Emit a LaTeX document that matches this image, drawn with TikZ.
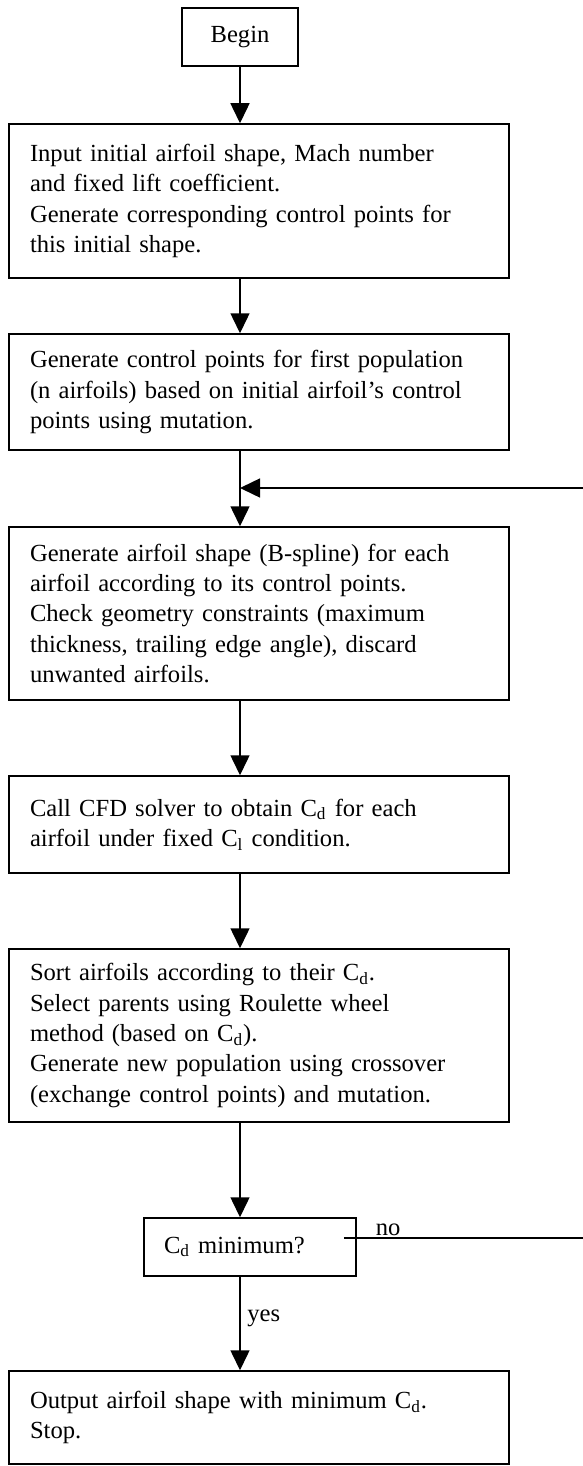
\documentclass[tikz,border=0pt]{standalone}
\usepackage{fontspec}
\setmainfont{Liberation Serif}
\usetikzlibrary{arrows.meta}

\begin{document}
\begin{tikzpicture}[x=0.5pt,y=-0.5pt,>={Triangle[length=10pt,width=9.5pt]},line width=0.75pt,
  stepbox/.style={draw,line width=0.75pt,minimum width=250pt,text width=229pt,inner xsep=10.5pt,inner ysep=3pt,align=left,font=\fontsize{12.3pt}{15.2pt}\selectfont},
  smallbox/.style={draw,line width=0.75pt,font=\fontsize{12.3pt}{15.2pt}\selectfont},
  lbl/.style={font=\fontsize{12.3pt}{15.2pt}\selectfont}]
\useasboundingbox (0,0) rectangle (583,1466);
\clip (0,0) rectangle (583,1466);
\node[smallbox,minimum width=58pt,minimum height=29pt] (begin) at (240,37) {Begin};
\node[stepbox,minimum height=77pt] (input) at (259,201) {Input initial airfoil shape, Mach number\\and fixed lift coefficient.\\Generate corresponding control points for\\this initial shape.};
\node[stepbox,minimum height=58pt] (firstpop) at (259,392) {Generate control points for first population\\(n airfoils) based on initial airfoil's control\\points using mutation.};
\node[stepbox,minimum height=86.5pt] (shape) at (259,613.5) {Generate airfoil shape (B-spline) for each\\airfoil according to its control points.\\Check geometry constraints (maximum\\thickness, trailing edge angle), discard\\unwanted airfoils.};
\node[stepbox,minimum height=48.5pt] (cfd) at (259,824.5) {Call CFD solver to obtain C\textsubscript{d} for each\\airfoil under fixed C\textsubscript{l} condition.};
\node[stepbox,minimum height=86.5pt] (select) at (259,1035.5) {Sort airfoils according to their C\textsubscript{d}.\\Select parents using Roulette wheel\\method (based on C\textsubscript{d}).\\Generate new population using crossover\\(exchange control points) and mutation.};
\node[smallbox,minimum width=106pt,text width=86pt,inner xsep=10pt,align=left,minimum height=29pt] (cdmin) at (250,1247) {C\textsubscript{d} minimum?};
\node[stepbox,minimum height=46.5pt] (output) at (259,1417.5) {Output airfoil shape with minimum C\textsubscript{d}.\\Stop.};
% loop-back points
\coordinate (join) at (240,488);
\coordinate (rim) at (590,0);
\coordinate (nostart) at ([xshift=-6.5pt,yshift=4.5pt]cdmin.east);
\draw[->] (begin.south) -- (input.north -| begin);
\draw[->] (input.south -| begin) -- (firstpop.north -| begin);
\draw[->] (firstpop.south -| begin) -- (shape.north -| begin);
\draw[->] (shape.south -| begin) -- (cfd.north -| begin);
\draw[->] (cfd.south -| begin) -- (select.north -| begin);
\draw[->] (select.south -| begin) -- (cdmin.north -| begin);
\draw[->] (cdmin.south -| begin) -- node[lbl,right,pos=0.45]{yes} (output.north -| begin);
\draw[->] (nostart) -- node[lbl,above,pos=0.18,inner sep=1pt]{no} (nostart -| rim) |- (join);
\end{tikzpicture}
\end{document}
